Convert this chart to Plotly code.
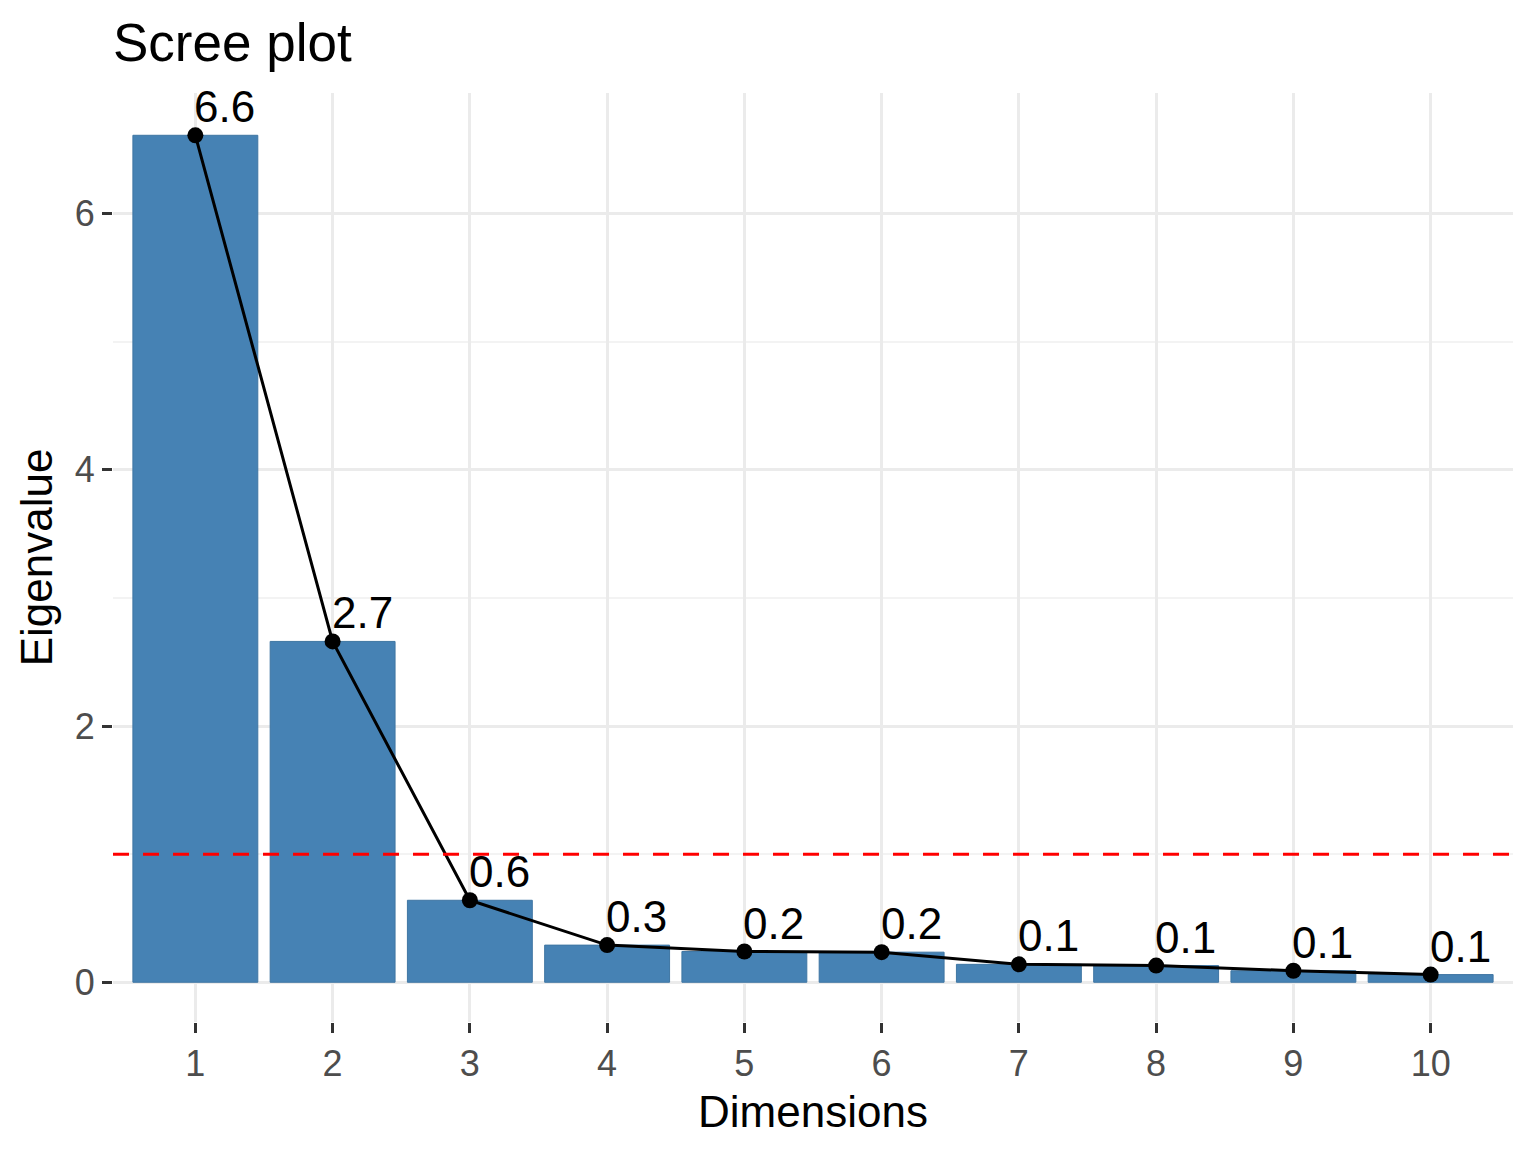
import plotly.graph_objects as go

# eigenvalues of the first 10 dimensions
dims = [1, 2, 3, 4, 5, 6, 7, 8, 9, 10]
eigenvalues = [6.61, 2.66, 0.64, 0.29, 0.24, 0.235, 0.14, 0.13, 0.09, 0.06]
labels = [f"{v:.1f}" for v in eigenvalues]
y_ticks = [0, 2, 4, 6]
cutoff = 1

font = "Liberation Sans, Arial, sans-serif"

# the page puts the plot 8px in from the corner, so work in a slightly smaller box
W, H, PAD = 1536, 1152, 8

fig = go.Figure()

fig.add_trace(go.Bar(
    x=dims, y=eigenvalues,
    marker=dict(color="#4682B4", line=dict(color="#3F76A3", width=1)),
    hoverinfo="x+y",
))

fig.add_trace(go.Scatter(
    x=dims, y=eigenvalues,
    mode="lines+markers",
    line=dict(color="black", width=3),
    marker=dict(color="black", size=16),
))

# value labels just above each point
for d, v, t in zip(dims, eigenvalues, labels):
    fig.add_annotation(
        x=d, y=v, text=t, showarrow=False,
        xanchor="left", yanchor="bottom", xshift=-3, yshift=2,
        font=dict(family=font, size=44, color="black"),
    )

fig.add_hline(y=cutoff, line=dict(color="red", width=3, dash="16px,14px"))

fig.update_layout(
    width=W - PAD, height=H - PAD,
    paper_bgcolor="white", plot_bgcolor="white",
    showlegend=False,
    bargap=0.09,
    margin=dict(l=113 - PAD, r=23, t=93 - PAD, b=130),
    font=dict(family=font),
    title=dict(
        text="Scree plot", x=(113 - PAD) / (W - PAD), xanchor="left", xref="container",
        y=1 - (42 - PAD) / (H - PAD), yanchor="middle", yref="container",
        font=dict(family=font, size=53, color="black"),
    ),
)

fig.update_xaxes(
    range=[0.4, 10.6], tickvals=dims, ticktext=[str(d) for d in dims],
    showgrid=True, gridcolor="#EBEBEB", gridwidth=2.5,
    zeroline=False, showline=False,
    ticks="outside", ticklen=10, tickwidth=3, tickcolor="#333333",
    tickfont=dict(family=font, size=36, color="#4D4D4D"),
    title=dict(text="Dimensions", standoff=12,
               font=dict(family=font, size=44, color="black")),
)

fig.update_yaxes(
    range=[-0.31, 6.94], tickvals=y_ticks,
    showgrid=True, gridcolor="#EBEBEB", gridwidth=2.5,
    minor=dict(dtick=1, tick0=0, showgrid=True, gridcolor="#F3F3F3", gridwidth=1.5),
    zeroline=False, showline=False,
    ticks="outside", ticklen=10, tickwidth=3, tickcolor="#333333",
    tickfont=dict(family=font, size=36, color="#4D4D4D"),
    title=dict(text="Eigenvalue", standoff=8,
               font=dict(family=font, size=44, color="black")),
)

fig.write_html("out.html")
